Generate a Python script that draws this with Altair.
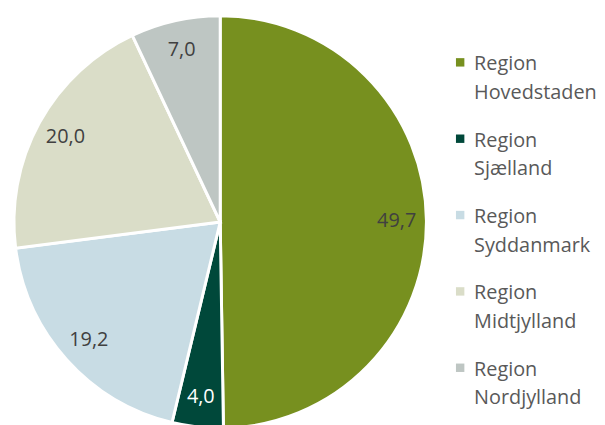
import altair as alt
import pandas as pd

regions = ["Region Hovedstaden", "Region Sjælland", "Region Syddanmark", "Region Midtjylland", "Region Nordjylland"]
legend_text = ["Region\nHovedstaden", "Region\nSjælland", "Region\nSyddanmark", "Region\nMidtjylland", "Region\nNordjylland"]
values = [49.7, 4.0, 19.2, 20.0, 7.0]
labels = ["49,7", "4,0", "19,2", "20,0", "7,0"]
colors = ["#77901F", "#00483A", "#C8DCE4", "#DADDC8", "#BEC6C3"]
text_colors = ["#404040", "#FFFFFF", "#404040", "#404040", "#404040"]

df = pd.DataFrame({
    "region": regions,
    "legend": legend_text,
    "value": values,
    "label": labels,
    "order": list(range(len(regions))),
    "tcolor": text_colors,
})

color_scale = alt.Scale(domain=regions, range=colors)

base = alt.Chart(df).encode(
    theta=alt.Theta("value:Q", stack=True),
    order=alt.Order("order:Q"),
)

pie = base.mark_arc(outerRadius=208, stroke="white", strokeWidth=3).encode(
    color=alt.Color("region:N", scale=color_scale, legend=None)
)

text = base.mark_text(radius=178, font="Open Sans", fontSize=20).encode(
    text="label:N",
    color=alt.Color("tcolor:N", scale=None),
)

pie_chart = (pie + text).properties(width=424, height=426)

ly = alt.Y("region:N", sort=regions,
           scale=alt.Scale(domain=regions, range=[52, 360], padding=0), axis=None)

leg_sq = alt.Chart(df).mark_square(size=72, opacity=1).encode(
    x=alt.value(18),
    y=ly,
    color=alt.Color("region:N", scale=color_scale, legend=None),
)

leg_txt = alt.Chart(df).mark_text(
    align="left", baseline="middle", lineBreak="\n", lineHeight=29,
    font="Open Sans", fontSize=20, color="#595959", dy=2,
).encode(
    x=alt.value(32),
    y=ly,
    text="legend:N",
)

legend_chart = (leg_sq + leg_txt).properties(width=150, height=426)

chart = alt.hconcat(pie_chart, legend_chart, spacing=10).properties(padding=0).configure_view(stroke=None)

chart.save("out.html", embed_options={"renderer": "svg", "actions": False})
